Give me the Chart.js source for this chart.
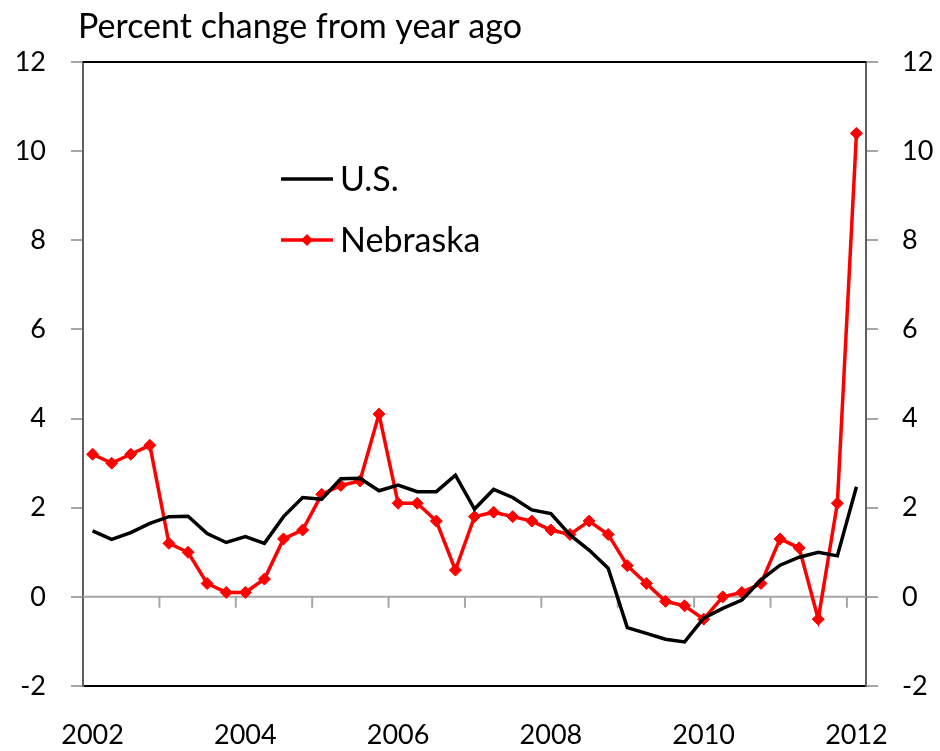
<!DOCTYPE html>
<html>
<head>
<meta charset="utf-8">
<script src="https://cdn.jsdelivr.net/npm/chart.js@4.4.0/dist/chart.umd.min.js"></script>
<style>
  html, body { margin: 0; padding: 0; background: #fff; }
  #wrap { width: 940px; height: 751px; position: relative; }
</style>
</head>
<body>
<div id="wrap"><canvas id="chart"></canvas></div>
<script>
// Trimestres 2002Q1 - 2012Q1
const quarters = [
  '2002Q1','2002Q2','2002Q3','2002Q4','2003Q1','2003Q2','2003Q3','2003Q4',
  '2004Q1','2004Q2','2004Q3','2004Q4','2005Q1','2005Q2','2005Q3','2005Q4',
  '2006Q1','2006Q2','2006Q3','2006Q4','2007Q1','2007Q2','2007Q3','2007Q4',
  '2008Q1','2008Q2','2008Q3','2008Q4','2009Q1','2009Q2','2009Q3','2009Q4',
  '2010Q1','2010Q2','2010Q3','2010Q4','2011Q1','2011Q2','2011Q3','2011Q4',
  '2012Q1'
];

const usValues = [
  1.48, 1.29, 1.44, 1.65, 1.80, 1.81, 1.42, 1.22,
  1.35, 1.20, 1.80, 2.23, 2.19, 2.65, 2.66, 2.38,
  2.51, 2.36, 2.36, 2.73, 1.97, 2.41, 2.23, 1.95,
  1.87, 1.39, 1.05, 0.64, -0.69, -0.82, -0.95, -1.01,
  -0.48, -0.26, -0.07, 0.38, 0.71, 0.89, 1.00, 0.92,
  2.47
];

const nebraskaValues = [
  3.2, 3.0, 3.2, 3.4, 1.2, 1.0, 0.3, 0.1,
  0.1, 0.4, 1.3, 1.5, 2.3, 2.5, 2.6, 4.1,
  2.1, 2.1, 1.7, 0.6, 1.8, 1.9, 1.8, 1.7,
  1.5, 1.4, 1.7, 1.4, 0.7, 0.3, -0.1, -0.2,
  -0.5, 0.0, 0.1, 0.3, 1.3, 1.1, -0.5, 2.1,
  10.4
];

const yearLabels = ['2002', '2004', '2006', '2008', '2010', '2012'];
const seriesNames = ['U.S.', 'Nebraska'];
const yMin = -2, yMax = 12, yStep = 2;
const titleText = 'Percent change from year ago';

const FONT = 'Lato, "Open Sans", sans-serif';

// Titulo, linea del cero, borde superior y leyenda
const extras = {
  id: 'extras',
  beforeDatasetsDraw(chart) {
    const { ctx, chartArea, scales } = chart;
    const x = scales.x;
    const y0 = scales.y.getPixelForValue(0);
    ctx.save();
    ctx.strokeStyle = '#a6a6a6';
    ctx.lineWidth = 2;
    ctx.beginPath();
    ctx.moveTo(chartArea.left, y0);
    ctx.lineTo(chartArea.right, y0);
    // marcas cada año, entre trimestres
    for (let i = 4; i < quarters.length; i += 4) {
      const px = (x.getPixelForValue(i - 1) + x.getPixelForValue(i)) / 2;
      ctx.moveTo(px, y0);
      ctx.lineTo(px, y0 + 11);
    }
    ctx.stroke();
    ctx.restore();
  },
  afterDraw(chart) {
    const { ctx, chartArea } = chart;
    ctx.save();
    ctx.strokeStyle = '#000';
    ctx.lineWidth = 2;
    ctx.beginPath();
    ctx.moveTo(chartArea.left, chartArea.top);
    ctx.lineTo(chartArea.right, chartArea.top);
    ctx.stroke();

    ctx.fillStyle = '#000';
    ctx.font = '34px ' + FONT;
    ctx.textBaseline = 'alphabetic';
    ctx.textAlign = 'left';
    ctx.fillText(titleText, 78, 38);

    // leyenda
    const rows = [179, 240];
    chart.data.datasets.forEach((ds, i) => {
      const ly = rows[i];
      ctx.strokeStyle = ds.borderColor;
      ctx.lineWidth = ds.borderWidth;
      ctx.beginPath();
      ctx.moveTo(281, ly);
      ctx.lineTo(333, ly);
      ctx.stroke();
      if (ds.pointRadius > 0) {
        ctx.fillStyle = ds.borderColor;
        ctx.beginPath();
        ctx.moveTo(307 - 6, ly);
        ctx.lineTo(307, ly - 6);
        ctx.lineTo(307 + 6, ly);
        ctx.lineTo(307, ly + 6);
        ctx.closePath();
        ctx.fill();
      }
      ctx.fillStyle = '#000';
      ctx.font = '34px ' + FONT;
      ctx.fillText(ds.label, 340, ly + 12);
    });
    ctx.restore();
  }
};

const tickFont = { family: FONT, size: 27 };

const yAxis = (pos, width, pad) => ({
  position: pos,
  min: yMin,
  max: yMax,
  ticks: { stepSize: yStep, padding: pad, font: tickFont, color: '#000' },
  grid: { drawOnChartArea: false, tickLength: 12, color: '#a6a6a6', lineWidth: 2 },
  border: { color: '#5f5f5f', width: 2 },
  afterFit(s) { s.width = width; }
});

new Chart(document.getElementById('chart'), {
  type: 'line',
  data: {
    labels: quarters,
    datasets: [
      {
        label: seriesNames[0],
        data: usValues,
        borderColor: '#000000',
        borderWidth: 3.5,
        pointRadius: 0,
        tension: 0,
        yAxisID: 'y'
      },
      {
        label: seriesNames[1],
        data: nebraskaValues,
        borderColor: '#ff0000',
        backgroundColor: '#ff0000',
        borderWidth: 3.5,
        pointStyle: 'rectRot',
        pointRadius: 6,
        pointBorderWidth: 1,
        pointBackgroundColor: '#ff0000',
        tension: 0,
        yAxisID: 'y'
      }
    ]
  },
  options: {
    responsive: true,
    maintainAspectRatio: false,
    animation: false,
    layout: { padding: { top: 62, left: 0, right: 0, bottom: 0 } },
    plugins: { legend: { display: false }, tooltip: { enabled: false } },
    scales: {
      x: {
        type: 'category',
        offset: true,
        grid: { display: false, drawTicks: false },
        border: { display: true, color: '#000', width: 2 },
        ticks: {
          autoSkip: false,
          maxRotation: 0,
          padding: 33,
          font: tickFont,
          color: '#000',
          callback(v, i) {
            const q = quarters[i];
            const yr = q.slice(0, 4);
            return (q.endsWith('Q1') && yearLabels.includes(yr)) ? yr : '';
          }
        },
        afterFit(s) { s.height = 65; }
      },
      y: yAxis('left', 83, 25),
      y2: yAxis('right', 74, 24)
    }
  },
  plugins: [extras]
});
</script>
</body>
</html>
